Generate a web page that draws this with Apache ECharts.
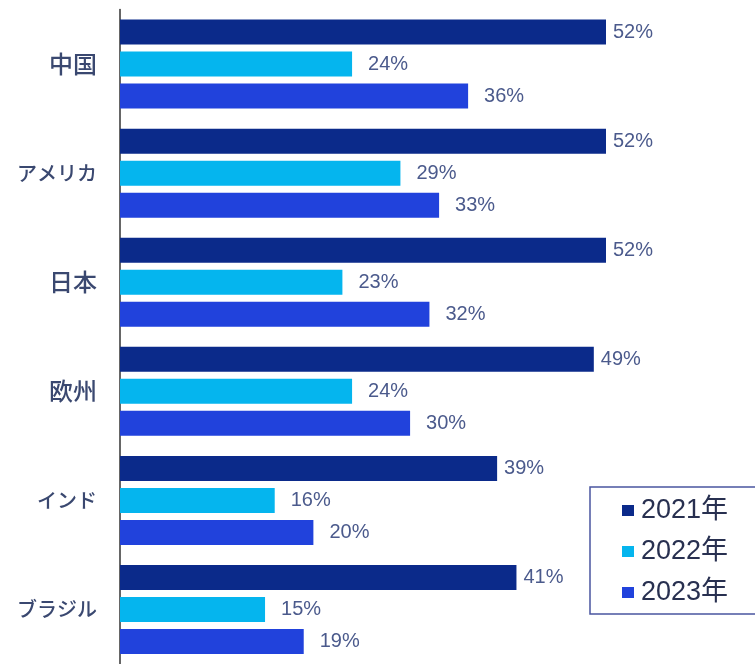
<!DOCTYPE html>
<html><head><meta charset="utf-8">
<script src="https://cdn.jsdelivr.net/npm/echarts@6/dist/echarts.min.js"></script>
<style>html,body{margin:0;padding:0;background:#fff}#c{width:755px;height:664px}</style>
</head><body><div id="c"></div>
<script>
const categories = ['中国', 'アメリカ', '日本', '欧州', 'インド', 'ブラジル'];
const seriesNames = ['2021年', '2022年', '2023年'];
const values2021 = [52, 52, 52, 49, 39, 41];
const values2022 = [24, 29, 23, 24, 16, 15];
const values2023 = [36, 33, 32, 30, 20, 19];

const font = '"Liberation Sans", Arial, "Noto Sans CJK JP", sans-serif';
const cjk = '"Noto Sans CJK JP", sans-serif';
const colors = ['#0b2a8a', '#05b5ee', '#2142dc'];
const dists = [7, 16, 16];
const allValues = [values2021, values2022, values2023];

// wrap katakana runs and kanji runs in different rich styles
function richLabel(s) {
  let out = '', cur = '', curType = null;
  for (const ch of s) {
    const t = /[\u30A0-\u30FF]/.test(ch) ? 'k' : 'h';
    if (t !== curType && cur) { out += '{' + curType + '|' + cur + '}'; cur = ''; }
    curType = t; cur += ch;
  }
  if (cur) out += '{' + curType + '|' + cur + '}';
  return out;
}

const chart = echarts.init(document.getElementById('c'), null, {renderer: 'canvas'});
chart.setOption({
  animation: false,
  backgroundColor: '#ffffff',
  grid: {left: 120, top: 9.5, width: 486, height: 660},
  xAxis: {type: 'value', min: 0, max: 50.26, show: false},
  yAxis: {
    type: 'category', data: categories, inverse: true,
    axisLine: {show: true, lineStyle: {color: '#333', width: 1.5}},
    axisTick: {show: false},
    axisLabel: {
      margin: 23, formatter: richLabel,
      rich: {
        h: {fontSize: 24, color: '#3a4870', fontFamily: cjk, fontWeight: 500},
        k: {fontSize: 20, color: '#3a4870', fontFamily: cjk, fontWeight: 500}
      }
    }
  },
  legend: {
    orient: 'vertical', left: 590, top: 487,
    padding: [10, 60, 8, 32],
    borderColor: '#4a56a0', borderWidth: 1.5,
    itemWidth: 12, itemHeight: 11, itemGap: 14, icon: 'rect',
    textStyle: {fontSize: 27, color: '#283050', fontFamily: font, padding: [0, 0, 0, 2]},
    data: seriesNames
  },
  series: allValues.map((vals, i) => ({
    name: seriesNames[i], type: 'bar', data: vals,
    barWidth: 25, barGap: '28%', clip: true,
    itemStyle: {color: colors[i]},
    label: {show: true, position: 'right', distance: dists[i], formatter: '{c}%',
      fontSize: 20, color: '#4b5a8c', fontFamily: font}
  }))
});
</script></body></html>
